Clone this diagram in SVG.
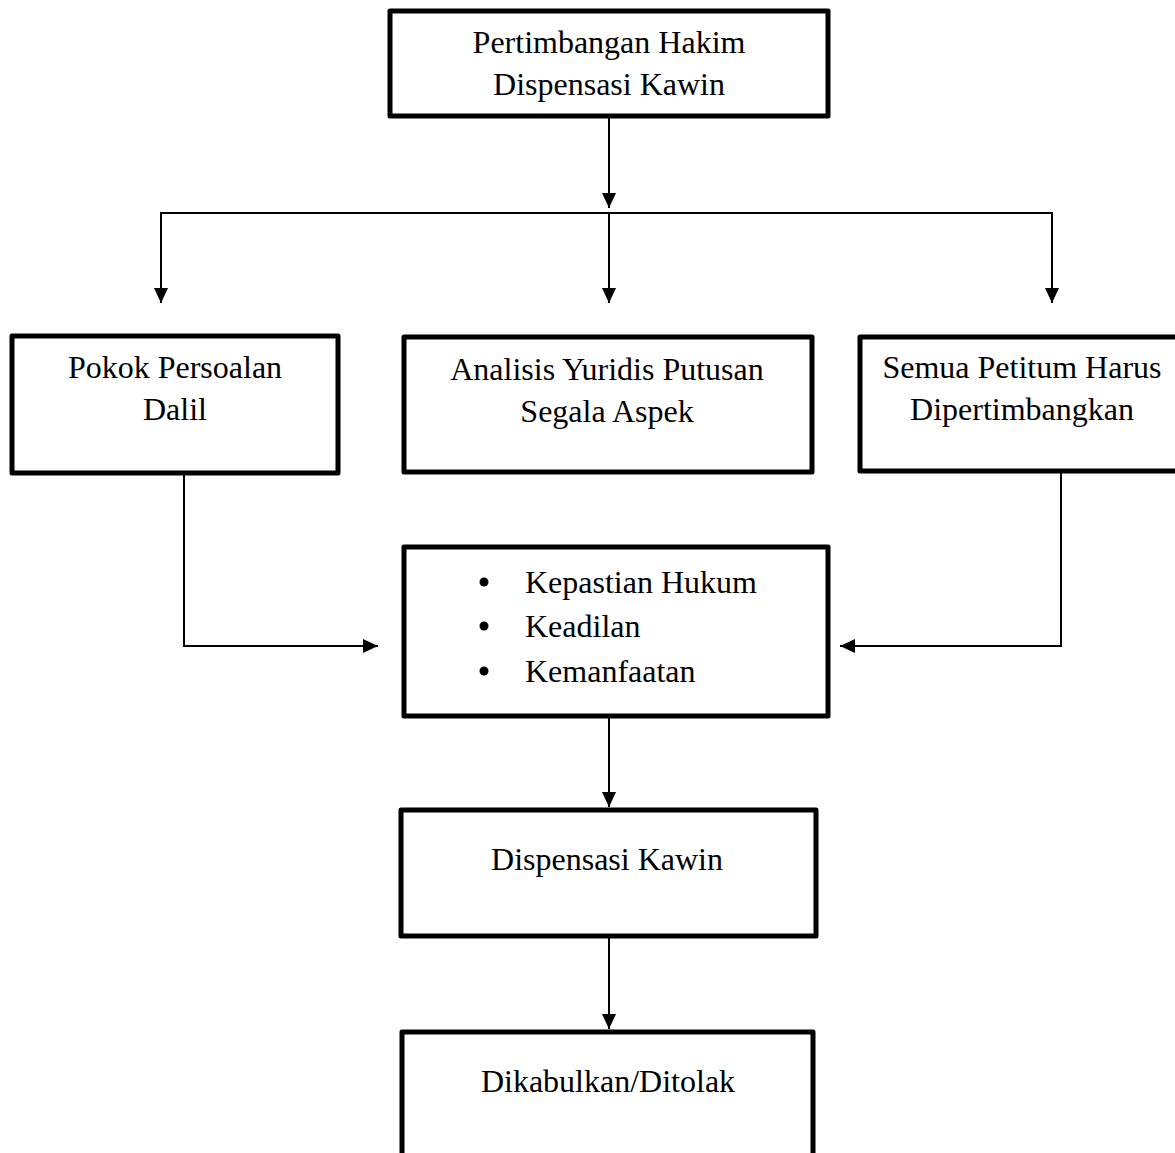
<svg xmlns="http://www.w3.org/2000/svg" width="1175" height="1153" viewBox="0 0 1175 1153">
<defs>
<marker id="arr" viewBox="0 0 15 14" refX="15" refY="7" markerWidth="15" markerHeight="14" markerUnits="userSpaceOnUse" orient="auto">
<path d="M0,0 L15,7 L0,14 Z" fill="#000"/>
</marker>
<style>
.box{fill:#fff;stroke:#000;stroke-width:5;stroke-linejoin:round}
.t{font-family:"Liberation Serif","Times New Roman",serif;font-size:32px;fill:#000}
.c{text-anchor:middle}
.ln{fill:none;stroke:#000;stroke-width:2}
</style>
</defs>
<rect width="1175" height="1153" fill="#fff"/>
<g id="connectors">
<path class="ln" d="M609,116 V208" marker-end="url(#arr)"/>
<path class="ln" d="M161,303 V213 H1052 V303" />
<path class="ln" d="M161,213 V303" marker-end="url(#arr)"/>
<path class="ln" d="M609,213 V303" marker-end="url(#arr)"/>
<path class="ln" d="M1052,213 V303" marker-end="url(#arr)"/>
<path class="ln" d="M184,473 V646 H378" marker-end="url(#arr)"/>
<path class="ln" d="M1061,471 V646 H840" marker-end="url(#arr)"/>
<path class="ln" d="M609,716 V807" marker-end="url(#arr)"/>
<path class="ln" d="M609,936 V1029" marker-end="url(#arr)"/>
</g>
<g id="n-top">
<rect class="box" x="390" y="11" width="438" height="105"/>
<text class="t c" x="609" y="53">Pertimbangan Hakim</text>
<text class="t c" x="609" y="95">Dispensasi Kawin</text>
</g>
<g id="n-pokok">
<rect class="box" x="12" y="336" width="326" height="137"/>
<text class="t c" x="175" y="378">Pokok Persoalan</text>
<text class="t c" x="175" y="420">Dalil</text>
</g>
<g id="n-analisis">
<rect class="box" x="404" y="337" width="408" height="135"/>
<text class="t c" x="607" y="380">Analisis Yuridis Putusan</text>
<text class="t c" x="607" y="422">Segala Aspek</text>
</g>
<g id="n-petitum">
<rect class="box" x="860" y="337" width="330" height="134"/>
<text class="t c" x="1022" y="378">Semua Petitum Harus</text>
<text class="t c" x="1022" y="420">Dipertimbangkan</text>
</g>
<g id="n-asas">
<rect class="box" x="404" y="547" width="424" height="169"/>
<circle cx="484" cy="582" r="4.5"/>
<circle cx="484" cy="626" r="4.5"/>
<circle cx="484" cy="671" r="4.5"/>
<text class="t" x="525" y="593">Kepastian Hukum</text>
<text class="t" x="525" y="637">Keadilan</text>
<text class="t" x="525" y="682">Kemanfaatan</text>
</g>
<g id="n-dispensasi">
<rect class="box" x="401" y="810" width="415" height="126"/>
<text class="t c" x="607" y="870">Dispensasi Kawin</text>
</g>
<g id="n-hasil">
<rect class="box" x="402" y="1032" width="411" height="140"/>
<text class="t c" x="608" y="1092">Dikabulkan/Ditolak</text>
</g>
</svg>
